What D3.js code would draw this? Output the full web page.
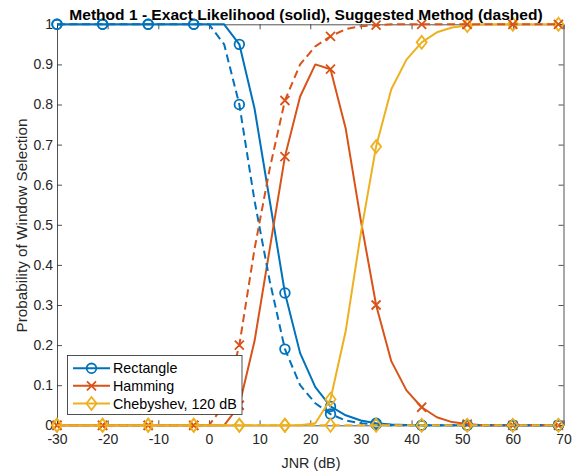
<!DOCTYPE html>
<html>
<head>
<meta charset="utf-8">
<script src="https://cdn.jsdelivr.net/npm/d3@7"></script>
<style>
  html, body { margin: 0; padding: 0; background: #fff; }
  svg { display: block; font-family: "Liberation Sans", Arial, Helvetica, sans-serif; }
</style>
</head>
<body>
<svg id="chart" width="581" height="471"></svg>
<script>
// ---- data ----
const jnr = [-30,-27,-24,-21,-18,-15,-12,-9,-6,-3,0,3,6,9,12,15,18,21,24,27,30,33,36,39,42,45,48,51,54,57,60,63,66,69];

const rectSolid  = [1,1,1,1,1,1,1,1,1,1,1,1,0.95,0.79,0.56,0.33,0.18,0.095,0.047,0.025,0.012,0.005,0.002,0.001,0,0,0,0,0,0,0,0,0,0];
const hamSolid   = [0,0,0,0,0,0,0,0,0,0,0,0,0.05,0.21,0.44,0.67,0.82,0.90,0.888,0.74,0.51,0.30,0.16,0.087,0.045,0.02,0.008,0.003,0,0,0,0,0,0];
const chebSolid  = [0,0,0,0,0,0,0,0,0,0,0,0,0,0,0,0,0,0.005,0.065,0.235,0.48,0.695,0.838,0.912,0.955,0.98,0.992,0.997,1,1,1,1,1,1];

const rectDashed = [1,1,1,1,1,1,1,1,1,1,1,0.95,0.80,0.56,0.36,0.19,0.10,0.055,0.028,0.012,0.005,0.002,0,0,0,0,0,0,0,0,0,0,0,0];
const hamDashed  = [0,0,0,0,0,0,0,0,0,0,0,0.05,0.20,0.44,0.64,0.81,0.90,0.945,0.97,0.988,0.995,0.998,1,1,1,1,1,1,1,1,1,1,1,1];
const chebDashed = [0,0,0,0,0,0,0,0,0,0,0,0,0,0,0,0,0,0,0,0,0,0,0,0,0,0,0,0,0,0,0,0,0,0];

const seriesNames = ["Rectangle", "Hamming", "Chebyshev, 120 dB"];
const xTicks = [-30,-20,-10,0,10,20,30,40,50,60,70];
const yTicks = [0,0.1,0.2,0.3,0.4,0.5,0.6,0.7,0.8,0.9,1];
const titleText = "Method 1 - Exact Likelihood (solid), Suggested Method (dashed)";
const xLabel = "JNR (dB)";
const yLabel = "Probability of Window Selection";

// ---- styling ----
const colors = ["#0072BD", "#D95319", "#EDB120"];
const markers = ["circle", "x", "diamond"];
const axisColor = "#262626";

const svg = d3.select("#chart");
const L = 57, R = 563.5, T = 24.3, B = 425.3;

const x = d3.scaleLinear().domain([-30, 70]).range([L, R]);
const y = d3.scaleLinear().domain([0, 1]).range([B, T]);

svg.append("rect").attr("x", L).attr("y", T).attr("width", R - L).attr("height", B - T).attr("fill", "#fff");

const fmtY = d => d === 0 ? "0" : d === 1 ? "1" : d.toFixed(1);
const fmtX = d => String(d);

function styleAxis(g) {
  g.selectAll(".domain").attr("stroke", axisColor).attr("stroke-width", 0.8);
  g.selectAll(".tick line").attr("stroke", axisColor).attr("stroke-width", 0.8);
  g.selectAll("text").attr("fill", axisColor).style("font-size", "14px");
}
const gx = svg.append("g").attr("transform", `translate(0,${B})`)
  .call(d3.axisBottom(x).tickValues(xTicks).tickSize(-5).tickSizeOuter(0).tickPadding(8.5).tickFormat(fmtX));
styleAxis(gx);
const gxt = svg.append("g").attr("transform", `translate(0,${T})`)
  .call(d3.axisTop(x).tickValues(xTicks).tickSize(-5).tickSizeOuter(0).tickFormat(""));
styleAxis(gxt);
const gy = svg.append("g").attr("transform", `translate(${L},0)`)
  .call(d3.axisLeft(y).tickValues(yTicks).tickSize(-5).tickSizeOuter(0).tickPadding(4).tickFormat(fmtY));
styleAxis(gy);
const gyr = svg.append("g").attr("transform", `translate(${R},0)`)
  .call(d3.axisRight(y).tickValues(yTicks).tickSize(-5).tickSizeOuter(0).tickFormat(""));
styleAxis(gyr);

const solidSeries = [rectSolid, hamSolid, chebSolid];
const dashedSeries = [rectDashed, hamDashed, chebDashed];
const line = d3.line().x(d => x(d[0])).y(d => y(d[1]));

function drawMarker(g, type, cx, cy, color) {
  if (type === "circle") {
    g.append("circle").attr("cx", cx).attr("cy", cy).attr("r", 4.8)
      .attr("fill", "none").attr("stroke", color).attr("stroke-width", 1.8);
  } else if (type === "x") {
    const s = 4.5;
    g.append("path").attr("d", `M${cx-s},${cy-s}L${cx+s},${cy+s}M${cx-s},${cy+s}L${cx+s},${cy-s}`)
      .attr("stroke", color).attr("stroke-width", 1.8).attr("fill", "none");
  } else {
    const w = 5, h = 6.5;
    g.append("path").attr("d", `M${cx},${cy-h}L${cx+w},${cy}L${cx},${cy+h}L${cx-w},${cy}Z`)
      .attr("stroke", color).attr("stroke-width", 1.8).attr("fill", "none");
  }
}

const plot = svg.append("g");
function drawSeries(vals, i, dashed) {
  const pts = jnr.map((j, k) => [j, vals[k]]);
  plot.append("path").datum(pts).attr("d", line)
    .attr("fill", "none").attr("stroke", colors[i]).attr("stroke-width", 2)
    .attr("stroke-dasharray", dashed ? "8,4.5" : null)
    .attr("stroke-linejoin", "round");
  pts.forEach((p, k) => {
    if (k % 3 === 0) drawMarker(plot, markers[i], x(p[0]), y(p[1]), colors[i]);
  });
}
solidSeries.forEach((s, i) => drawSeries(s, i, false));
dashedSeries.forEach((s, i) => drawSeries(s, i, true));

// fit a text element's font size to a target width
function fitWidth(sel, target) {
  const len = sel.node().getComputedTextLength();
  const fs = parseFloat(sel.style("font-size"));
  if (len > 0) sel.style("font-size", (fs * target / len) + "px");
}

const title = svg.append("text").attr("x", 306).attr("y", 20).attr("text-anchor", "middle")
  .attr("fill", "#000").style("font-size", "14px").style("font-weight", "bold").text(titleText);
fitWidth(title, 474);
const xl = svg.append("text").attr("x", 311).attr("y", 468).attr("text-anchor", "middle")
  .attr("fill", axisColor).style("font-size", "14px").text(xLabel);
fitWidth(xl, 59);
const yl = svg.append("text").attr("transform", `translate(27,${225.5}) rotate(-90)`).attr("text-anchor", "middle")
  .attr("fill", axisColor).style("font-size", "14px").text(yLabel);
fitWidth(yl, 214);

// legend
const lg = svg.append("g");
lg.append("rect").attr("x", 67.5).attr("y", 355.5).attr("width", 174.5).attr("height", 59)
  .attr("fill", "#fff").attr("stroke", axisColor).attr("stroke-width", 0.8);
const rowY = [368.3, 385.8, 403.5];
seriesNames.forEach((name, i) => {
  lg.append("line").attr("x1", 73).attr("x2", 110).attr("y1", rowY[i]).attr("y2", rowY[i])
    .attr("stroke", colors[i]).attr("stroke-width", 2);
  drawMarker(lg, markers[i], 91.5, rowY[i], colors[i]);
  lg.append("text").attr("x", 113).attr("y", rowY[i]).attr("dy", "0.35em")
    .attr("fill", "#000").style("font-size", "14.3px").text(name);
});
</script>
</body>
</html>
